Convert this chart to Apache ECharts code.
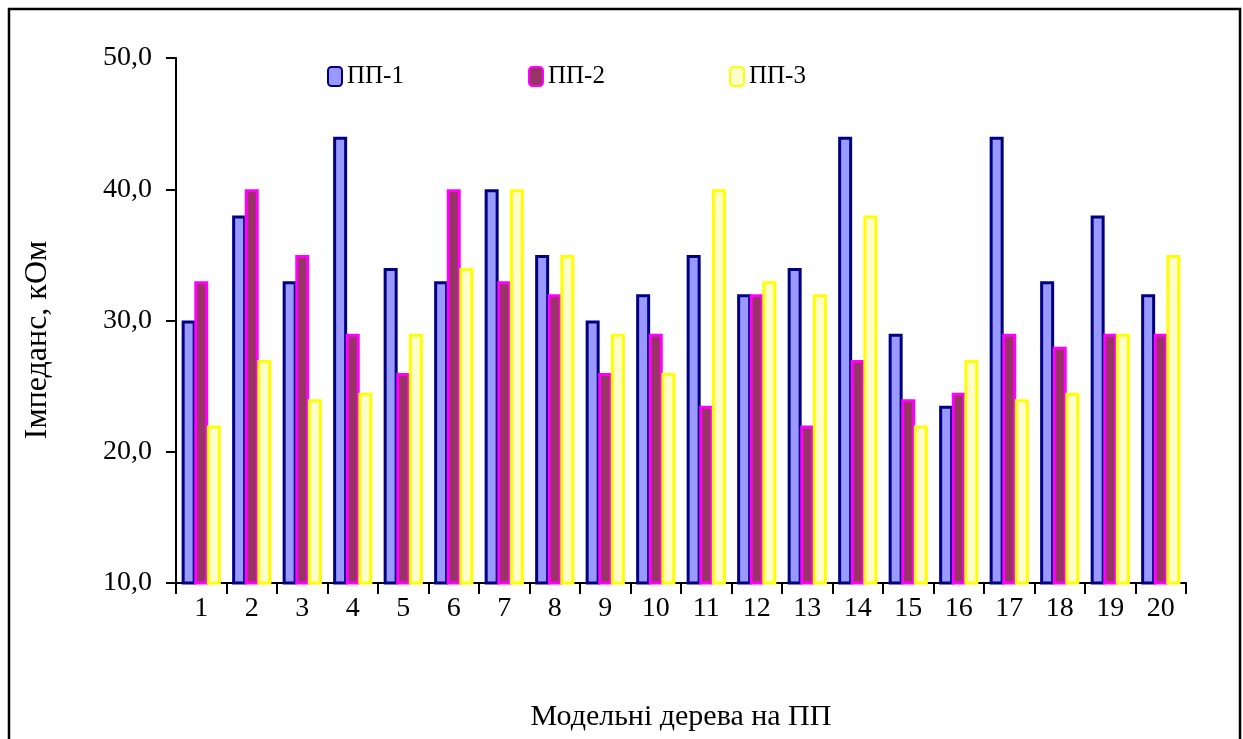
<!DOCTYPE html>
<html>
<head>
<meta charset="utf-8">
<script src="https://cdn.jsdelivr.net/npm/echarts@6/dist/echarts.min.js"></script>
<style>
  html, body { margin: 0; padding: 0; background: #fff; }
  #chart { width: 1243px; height: 739px; }
</style>
</head>
<body>
<div id="chart"></div>
<script>
// Model trees 1..20 on three sample plots (ПП-1..ПП-3)
const categories = ['1','2','3','4','5','6','7','8','9','10','11','12','13','14','15','16','17','18','19','20'];
const seriesNames = ['ПП-1', 'ПП-2', 'ПП-3'];
const pp1 = [30, 38, 33, 44, 34, 33, 40, 35, 30, 32, 35, 32, 34, 44, 29, 23.5, 44, 33, 38, 32];
const pp2 = [33, 40, 35, 29, 26, 40, 33, 32, 26, 29, 23.5, 32, 22, 27, 24, 24.5, 29, 28, 29, 29];
const pp3 = [22, 27, 24, 24.5, 29, 34, 40, 35, 29, 26, 40, 33, 32, 38, 22, 27, 24, 24.5, 29, 35];
const yTicks = [10, 20, 30, 40, 50];

const FONT = '"Times New Roman", "Liberation Serif", serif';

const styles = [
  { fill: '#9999FF', stroke: '#000080' },
  { fill: '#993366', stroke: '#FF00FF' },
  { fill: '#FFFFCC', stroke: '#FFFF00' }
];
const values = [pp1, pp2, pp3];

const chart = echarts.init(document.getElementById('chart'), null, { renderer: 'canvas' });

const legendLefts = [322, 523, 724];

chart.setOption({
  backgroundColor: '#ffffff',
  animation: false,
  grid: { left: 176, top: 58, width: 1010, height: 525, containLabel: false },
  legend: seriesNames.map((name, i) => ({
    data: [name],
    left: legendLefts[i],
    top: 59,
    itemWidth: 14,
    itemHeight: 19,
    itemGap: 0,
    textStyle: { fontFamily: FONT, fontSize: 25, color: '#000' }
  })),
  xAxis: {
    type: 'category',
    data: categories,
    name: 'Модельні дерева на ПП',
    nameLocation: 'middle',
    nameGap: 119,
    nameTextStyle: { fontFamily: FONT, fontSize: 30, color: '#000' },
    axisLine: { lineStyle: { color: '#000', width: 2 } },
    axisTick: { show: true, length: 11, lineStyle: { color: '#000', width: 2 } },
    axisLabel: { fontFamily: FONT, fontSize: 28, color: '#000', margin: 12 }
  },
  yAxis: {
    type: 'value',
    min: yTicks[0],
    max: yTicks[yTicks.length - 1],
    interval: 10,
    axisLine: { show: true, lineStyle: { color: '#000', width: 2 } },
    axisTick: { show: true, length: 10, lineStyle: { color: '#000', width: 2 } },
    splitLine: { show: false },
    axisLabel: {
      fontFamily: FONT, fontSize: 28, color: '#000', margin: 24,
      formatter: v => v.toFixed(1).replace('.', ',')
    }
  },
  graphic: [
    {
      type: 'rect',
      shape: { x: 9, y: 9, width: 1231, height: 800 },
      style: { fill: 'none', stroke: '#000', lineWidth: 2.5 },
      silent: true,
      z: -1
    },
    {
      type: 'text',
      x: 38,
      y: 340,
      rotation: Math.PI / 2,
      style: {
        text: 'Імпеданс, кОм',
        fontFamily: FONT,
        fontSize: 32,
        fill: '#000',
        align: 'center',
        verticalAlign: 'middle'
      }
    }
  ],
  series: seriesNames.map((name, i) => ({
    name: name,
    type: 'bar',
    data: values[i],
    barWidth: 14,
    barGap: '-10%',
    itemStyle: {
      color: styles[i].fill,
      borderColor: styles[i].stroke,
      borderWidth: 3
    }
  }))
});
</script>
</body>
</html>
